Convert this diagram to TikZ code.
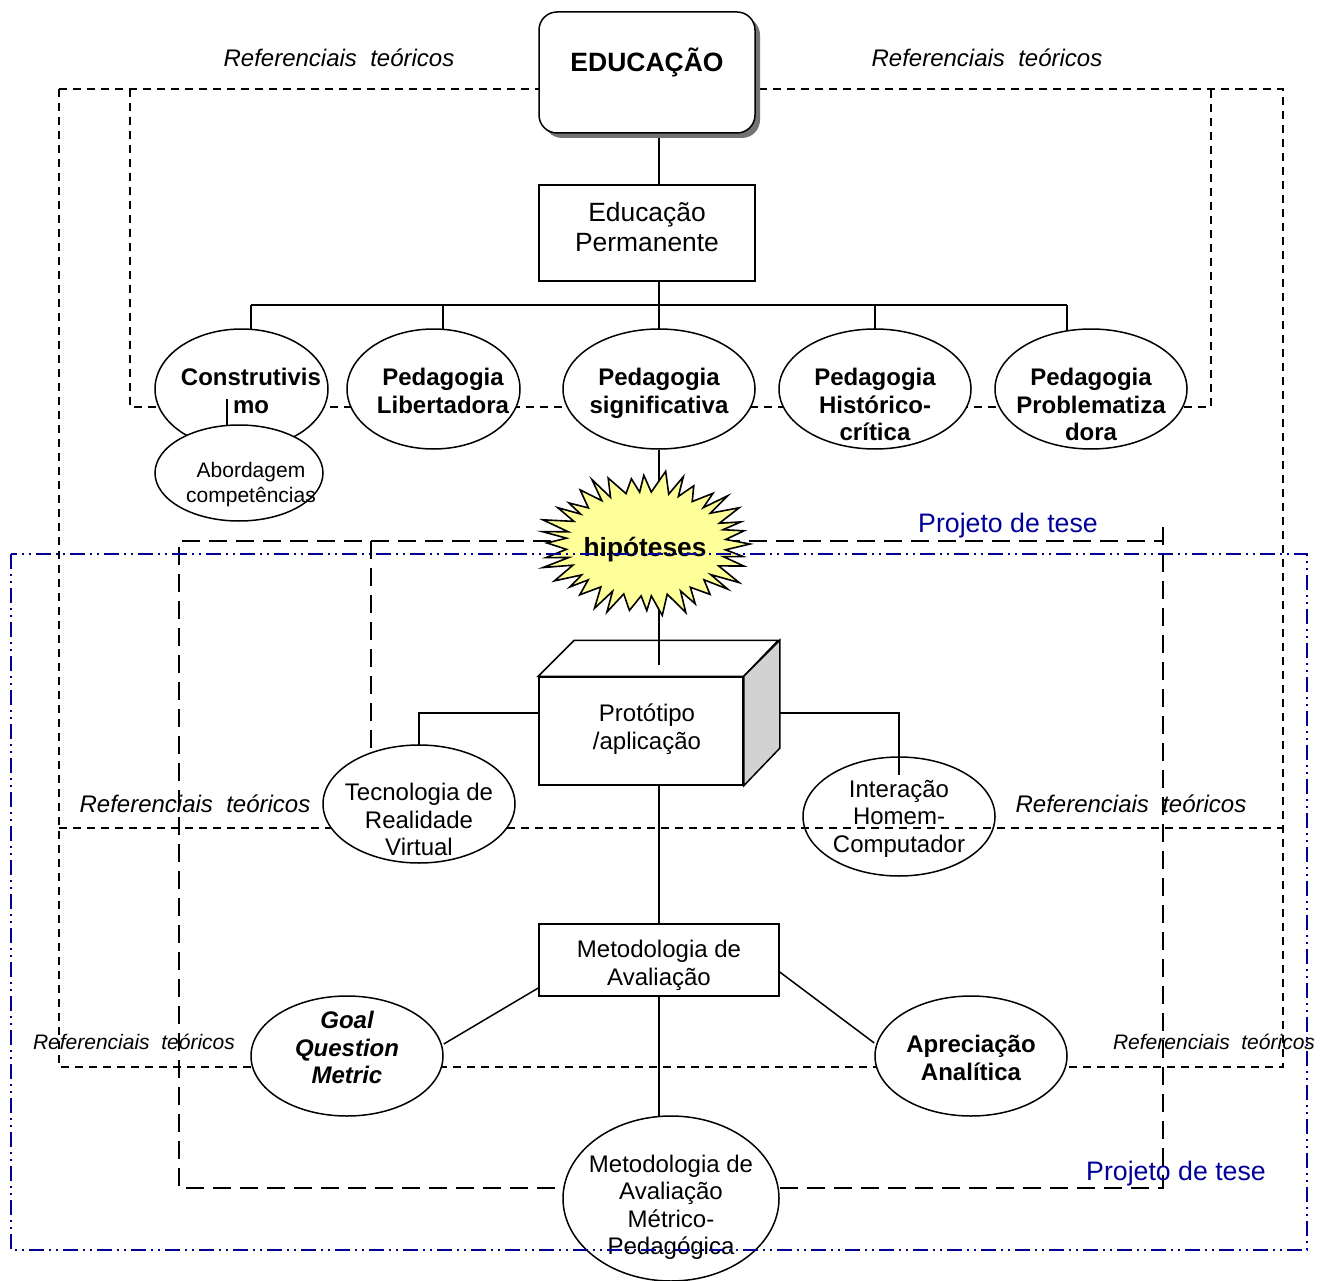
\documentclass[tikz,border=0pt]{standalone}
\usepackage{fontspec}
\setmainfont{Liberation Sans}
\usetikzlibrary{shapes.geometric,backgrounds,shadows}
\definecolor{navyline}{RGB}{0,0,153}
\definecolor{burst}{RGB}{255,255,153}
\definecolor{sideface}{RGB}{210,210,210}
\begin{document}
\begin{tikzpicture}[x=1pt,y=-1pt,
  solid line/.style={line width=1.5pt},
  refdash/.style={line width=1.5pt, dash pattern=on 8pt off 6pt},
  projdash/.style={line width=1.6pt, dash pattern=on 18pt off 9pt},
  blueframe/.style={navyline, line width=1.8pt, dash pattern=on 15pt off 5pt on 2pt off 5pt on 2pt off 5pt},
  oval/.style={ellipse, draw, line width=1.5pt, fill=white, inner sep=0pt},
  boxnode/.style={rectangle, draw, line width=1.5pt, fill=white, inner sep=0pt},
  txt/.style={font=\fontsize{24}{27.5}\selectfont, align=center, inner sep=0pt},
  txtb/.style={txt, font=\fontsize{24}{27.5}\selectfont\bfseries},
  txtbi/.style={txt, font=\fontsize{24}{27.5}\selectfont\bfseries\itshape},
  reftxt/.style={font=\fontsize{24}{28}\selectfont\itshape, inner sep=0pt},
  refsmall/.style={font=\fontsize{21}{25}\selectfont\itshape, inner sep=0pt},
  projtxt/.style={font=\fontsize{26.7}{30}\selectfont, text=navyline, inner sep=0pt}
]
\useasboundingbox (0,0) rectangle (1325,1281);

% ---------- shapes ----------
\node[boxnode, rounded corners=18pt, minimum width=216pt, minimum height=121pt,
      drop shadow={shadow xshift=5pt, shadow yshift=-5pt, fill=black!55, opacity=1}] (edu) at (647,72.5) {};
\node[boxnode, minimum width=216pt, minimum height=96pt] (perm) at (647,233) {};
\coordinate (spine) at (659,0);

\node[oval, minimum width=173pt, minimum height=120pt] (constr) at (241.5,389) {};
\coordinate (constrjoin) at (227,399);
\draw[solid line] (constrjoin) -- (227,430);
\node[oval, minimum width=168pt, minimum height=96pt] (abord) at (239,473) {};
\node[oval, minimum width=173pt, minimum height=120pt] (liber) at (433.5,389) {};
\node[oval, minimum width=192pt, minimum height=120pt] (sig) at (659,389) {};
\node[oval, minimum width=192pt, minimum height=120pt] (hist) at (875,389) {};
\node[oval, minimum width=192pt, minimum height=120pt] (prob) at (1091,389) {};

% prototype box: front face, top face and shaded side
\node[boxnode, minimum width=204pt, minimum height=108pt] (proto) at (641,731) {};
\draw[solid line, fill=white] (proto.north west) -- ++(36,-36) -- ++(204,0) -- (proto.north east) -- cycle;
\draw[solid line, fill=sideface] (proto.north east) -- ++(36,-36) -- ++(0,108) -- (proto.south east) -- cycle;

\node[oval, minimum width=192pt, minimum height=118pt] (tec) at (419,804) {};
\node[ellipse, draw, line width=1.5pt, inner sep=0pt, minimum width=192pt, minimum height=119pt] (inter) at (899,816.5) {};
\node[boxnode, minimum width=240pt, minimum height=72pt] (meto) at (659,960) {};
\node[oval, minimum width=192pt, minimum height=120pt] (gqm) at (347,1056) {};
\node[oval, minimum width=192pt, minimum height=120pt] (apre) at (971,1056) {};
\node[oval, minimum width=216pt, minimum height=165pt] (metr) at (671,1198.5) {};

% spine through the hypotheses, ending on the top face of the prototype box
\draw[solid line] (sig.south) -- (spine |- 0,665);

% starburst
\node[inner sep=0pt] (burstc) at (646,544) {};
\draw[line width=1.6pt, fill=burst, line join=miter]
  plot[samples at={0,...,71}, variable=\k]
  ({646+ifthenelse(mod(\k,2)==0,104*(1+0.05*sin(\k*137)),80)*cos(\k*5+1.5*sin(\k*71))},
   {544+ifthenelse(mod(\k,2)==0,70*(1+0.06*sin(\k*137)),52)*sin(\k*5+1.5*sin(\k*71))}) -- cycle;

% ---------- background: frames and connectors ----------
\begin{scope}[on background layer]
  % theoretical references frames
  \draw[refdash] (59,89) rectangle (1283,1067);
  \draw[refdash] (130,89) -- (130,407) -- (1211,407) -- (1211,89);
  \draw[refdash] (59,828) -- (1283,828);
  % thesis project frame
  \draw[projdash] (1163,527) -- (1163,1188) -- (179,1188) -- (179,541) -- (1163,541);
  \draw[projdash] (371,541) -- (tec.center -| 371,0);
  % connectors
  \coordinate (busL) at (251,305);
  \coordinate (busR) at (1067,305);
  \draw[solid line] (edu.south -| spine) -- (perm.north -| spine);
  \draw[solid line] (perm.south -| spine) -- (busL -| spine);
  \draw[solid line] (busL) -- (busR);
  \draw[solid line] (busL) -- (busL |- constr.center);
  \draw[solid line] (443,305) -- (443,389);
  \draw[solid line] (sig |- busL) -- (sig.center);
  \draw[solid line] (hist |- busL) -- (hist.center);
  \draw[solid line] (busR) -- (busR |- prob.center);
  \draw[solid line] ([yshift=18pt]proto.west) -| (tec.center);
  \coordinate (interjoin) at (899,775);
  \draw[solid line] ([xshift=36pt,yshift=18pt]proto.east) -| (interjoin);
  \draw[solid line] (proto.south -| spine) -- (meto.north -| spine);
  \draw[solid line] ([yshift=-28pt]meto.west) -- ([yshift=12pt]gqm.east);
  \draw[solid line] ([yshift=-12pt]meto.east) -- ([yshift=13pt]apre.west);
  \draw[solid line] (meto.south -| spine) -- (metr.center -| spine);
\end{scope}

% ---------- texts ----------
\node[txtb, font=\fontsize{26.5}{30}\selectfont\bfseries] (edut) at (647,62) {EDUCAÇÃO};
\node[txt, font=\fontsize{26.4}{30}\selectfont] (permt) at (647,227) {Educação\\Permanente};
\node[txtb] (constrt) at (251,391) {Construtivis\\mo};
\node[txt, font=\fontsize{21}{25}\selectfont] (abordt) at (251,485) {Abordagem\\competências};
\node[txtb] (libert) at (443,391) {Pedagogia\\Libertadora};
\node[txtb] (sigt) at (659,393.5) {Pedagogia\\significativa};
\node[txtb] (histt) at (875,404.5) {Pedagogia\\Histórico-\\crítica};
\node[txtb] (probt) at (1091,404.5) {Pedagogia\\Problematiza\\dora};
\node[txtb, font=\fontsize{26.3}{30}\selectfont\bfseries] (hip) at (645,549.5) {hipóteses};
\node[txt] (protot) at (647,729) {Protótipo\\/aplicação};
\node[txt] (tect) at (419,819.5) {Tecnologia de\\Realidade\\Virtual};
\node[txt] (intert) at (899,818.5) {Interação\\Homem-\\Computador};
\node[txt] (metot) at (659,965.5) {Metodologia de\\Avaliação};
\node[txtbi] (gqmt) at (347,1047.5) {Goal\\Question\\Metric};
\node[txtb] (apret) at (971,1058) {Apreciação\\Analítica};
\node[txt] (metrt) at (671,1207.5) {Metodologia de\\Avaliação\\Métrico-\\Pedagógica};

\node[reftxt] (ref1) at (339,58) {Referenciais\ \ teóricos};
\node[reftxt] (ref2) at (987,58) {Referenciais\ \ teóricos};
\node[reftxt] (ref3) at (195,804) {Referenciais\ \ teóricos};
\node[reftxt] (ref4) at (1131,804) {Referenciais\ \ teóricos};
\node[refsmall] (ref5) at (134,1042) {Referenciais\ \ teóricos};
\node[refsmall] (ref6) at (1214,1042) {Referenciais\ \ teóricos};

\node[projtxt] (proj1) at (1008,525.5) {Projeto de tese};
\node[projtxt] (proj2) at (1176,1173.5) {Projeto de tese};

% outer frame of the thesis project, drawn over everything
\draw[blueframe] (11,554) rectangle (1307,1250);
\end{tikzpicture}
\end{document}
